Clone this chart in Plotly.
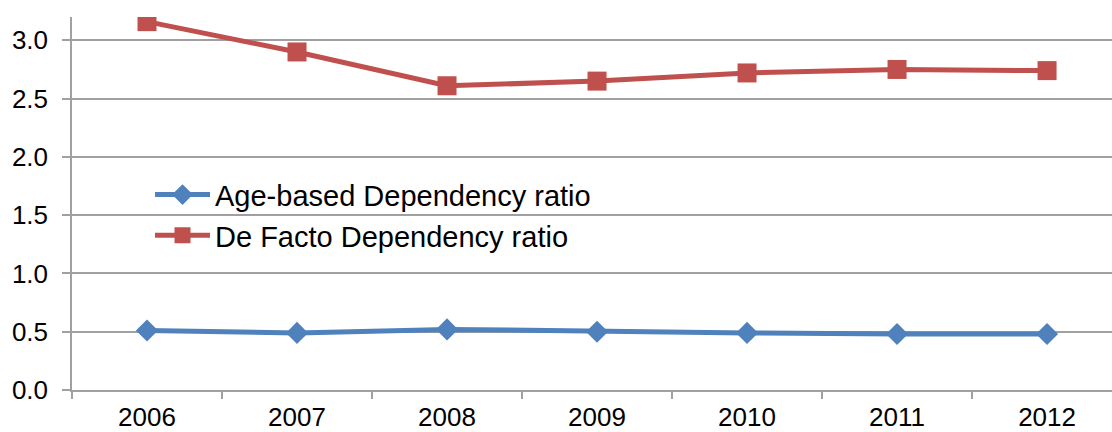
import plotly.graph_objects as go

# Dependency ratios by year
years = ["2006", "2007", "2008", "2009", "2010", "2011", "2012"]
age_based = [0.51, 0.49, 0.52, 0.50, 0.49, 0.48, 0.48]
de_facto = [3.16, 2.90, 2.61, 2.65, 2.72, 2.75, 2.74]

FONT = "Liberation Sans, Arial, sans-serif"
GRID = "#a0a0a0"

fig = go.Figure()
fig.add_trace(go.Scatter(
    x=years, y=age_based, name="Age-based Dependency ratio",
    mode="lines+markers",
    line=dict(color="#4F81BD", width=5),
    marker=dict(symbol="diamond", size=17, color="#4F81BD"),
))
fig.add_trace(go.Scatter(
    x=years, y=de_facto, name="De Facto Dependency ratio",
    mode="lines+markers",
    line=dict(color="#C0504D", width=5),
    marker=dict(symbol="square", size=19, color="#C0504D"),
))

fig.update_layout(
    width=1112, height=432,
    margin=dict(l=72, r=0, t=17, b=42, autoexpand=False),
    paper_bgcolor="white", plot_bgcolor="white",
    font=dict(family=FONT, size=26, color="black"),
    showlegend=True,
    legend=dict(
        x=0.075, y=0.592, xanchor="left", yanchor="top",
        bgcolor="rgba(0,0,0,0)", font=dict(size=29),
        tracegroupgap=0, itemwidth=55,
    ),
    xaxis=dict(
        type="category", range=[-0.5, 6.433],
        tickson="boundaries", ticks="outside", ticklen=7,
        tickcolor=GRID, tickwidth=1.5,
        showline=True, linecolor=GRID, linewidth=1.5,
        showgrid=False, tickfont=dict(size=26),
        ticklabelstandoff=3, automargin=False,
    ),
    yaxis=dict(
        range=[0, 3.2], tick0=0, dtick=0.5, tickformat=".1f",
        ticks="outside", ticklen=8, tickcolor=GRID, tickwidth=1.5,
        showline=True, linecolor=GRID, linewidth=1.5,
        showgrid=True, gridcolor=GRID, gridwidth=1.5,
        zeroline=False, tickfont=dict(size=26),
        ticklabelstandoff=9, automargin=False,
    ),
)

fig.write_html("out.html")
